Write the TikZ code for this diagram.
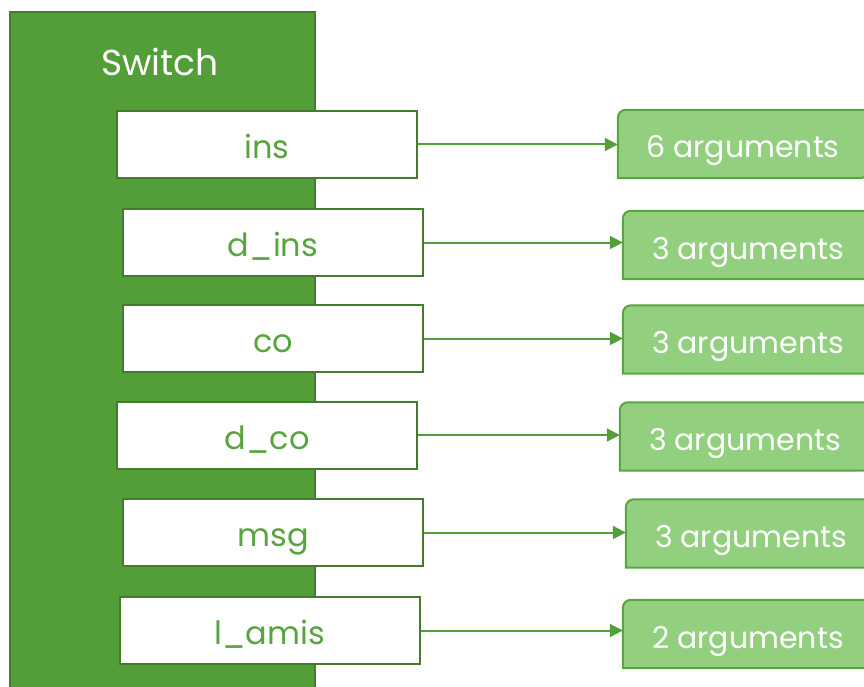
\documentclass[tikz,border=0pt]{standalone}
\usepackage{fontspec}
\setmainfont{Poppins}
\usetikzlibrary{arrows.meta,backgrounds}
\definecolor{switchgreen}{RGB}{84,158,57}
\definecolor{darkgreen}{RGB}{66,124,44}
\definecolor{textgreen}{RGB}{88,164,62}
\definecolor{argfill}{RGB}{146,208,128}
\definecolor{argline}{RGB}{88,166,64}
\tikzset{
  casebox/.style={draw=darkgreen, line width=2pt, fill=white, text=textgreen,
    minimum width=300pt, minimum height=67pt, inner sep=0pt,
    text height=29pt, text depth=1pt,
    font=\fontsize{32}{32}\selectfont},
  argbox/.style={text=white, minimum width=250pt, minimum height=68pt, inner sep=0pt,
    text height=29pt, text depth=1pt,
    font=\fontsize{30}{30}\selectfont},
  argshape/.style={fill=argfill, draw=argline, line width=2pt},
  link/.style={draw=switchgreen, line width=2pt, -{Triangle[length=13pt,width=13pt]}}
}
\begin{document}
\begin{tikzpicture}[x=1pt, y=-1pt]
    \clip (0,0) rectangle (864,687);
    % the switch block
    \draw[fill=switchgreen, draw=darkgreen, line width=2pt] (10,12) rectangle (315,700);
    \node[text=white, font=\fontsize{36}{36}\selectfont] (switch) at (160,62) {Switch};
    % the cases
    \node[casebox] (ins) at (267,144.5) {ins};
    \node[casebox] (dins) at (273,242.5) {d\_ins};
    \node[casebox] (co) at (273,338.5) {co};
    \node[casebox] (dco) at (267,435) {d\_co};
    \node[casebox] (msg) at (273,532.5) {msg};
    \node[casebox] (lamis) at (269.5,630.5) {l\_amis};
    % number of arguments
    \node[argbox] (a1) at (743,144) {6 arguments};
    \node[argbox] (a2) at (748,245) {3 arguments};
    \node[argbox] (a3) at (748,339.5) {3 arguments};
    \node[argbox] (a4) at (745,436.5) {3 arguments};
    \node[argbox] (a5) at (751,533.5) {3 arguments};
    \node[argbox] (a6) at (748,634) {2 arguments};
    \begin{scope}[on background layer]
      \foreach \a in {a1,a2,a3,a4,a5,a6}
        \draw[argshape] (\a.south west) -- ([yshift=-8pt]\a.north west)
          arc[start angle=180, end angle=90, radius=8pt] -- (\a.north east)
          -- ([yshift=8pt]\a.south east) arc[start angle=0, end angle=-90, radius=8pt] -- cycle;
    \end{scope}
    % arrows
    \draw[link] (ins.east) -- (ins.east -| a1.west);
    \draw[link] (dins.east) -- (dins.east -| a2.west);
    \draw[link] (co.east) -- (co.east -| a3.west);
    \draw[link] (dco.east) -- (dco.east -| a4.west);
    \draw[link] (msg.east) -- (msg.east -| a5.west);
    \draw[link] (lamis.east) -- (lamis.east -| a6.west);
\end{tikzpicture}
\end{document}
